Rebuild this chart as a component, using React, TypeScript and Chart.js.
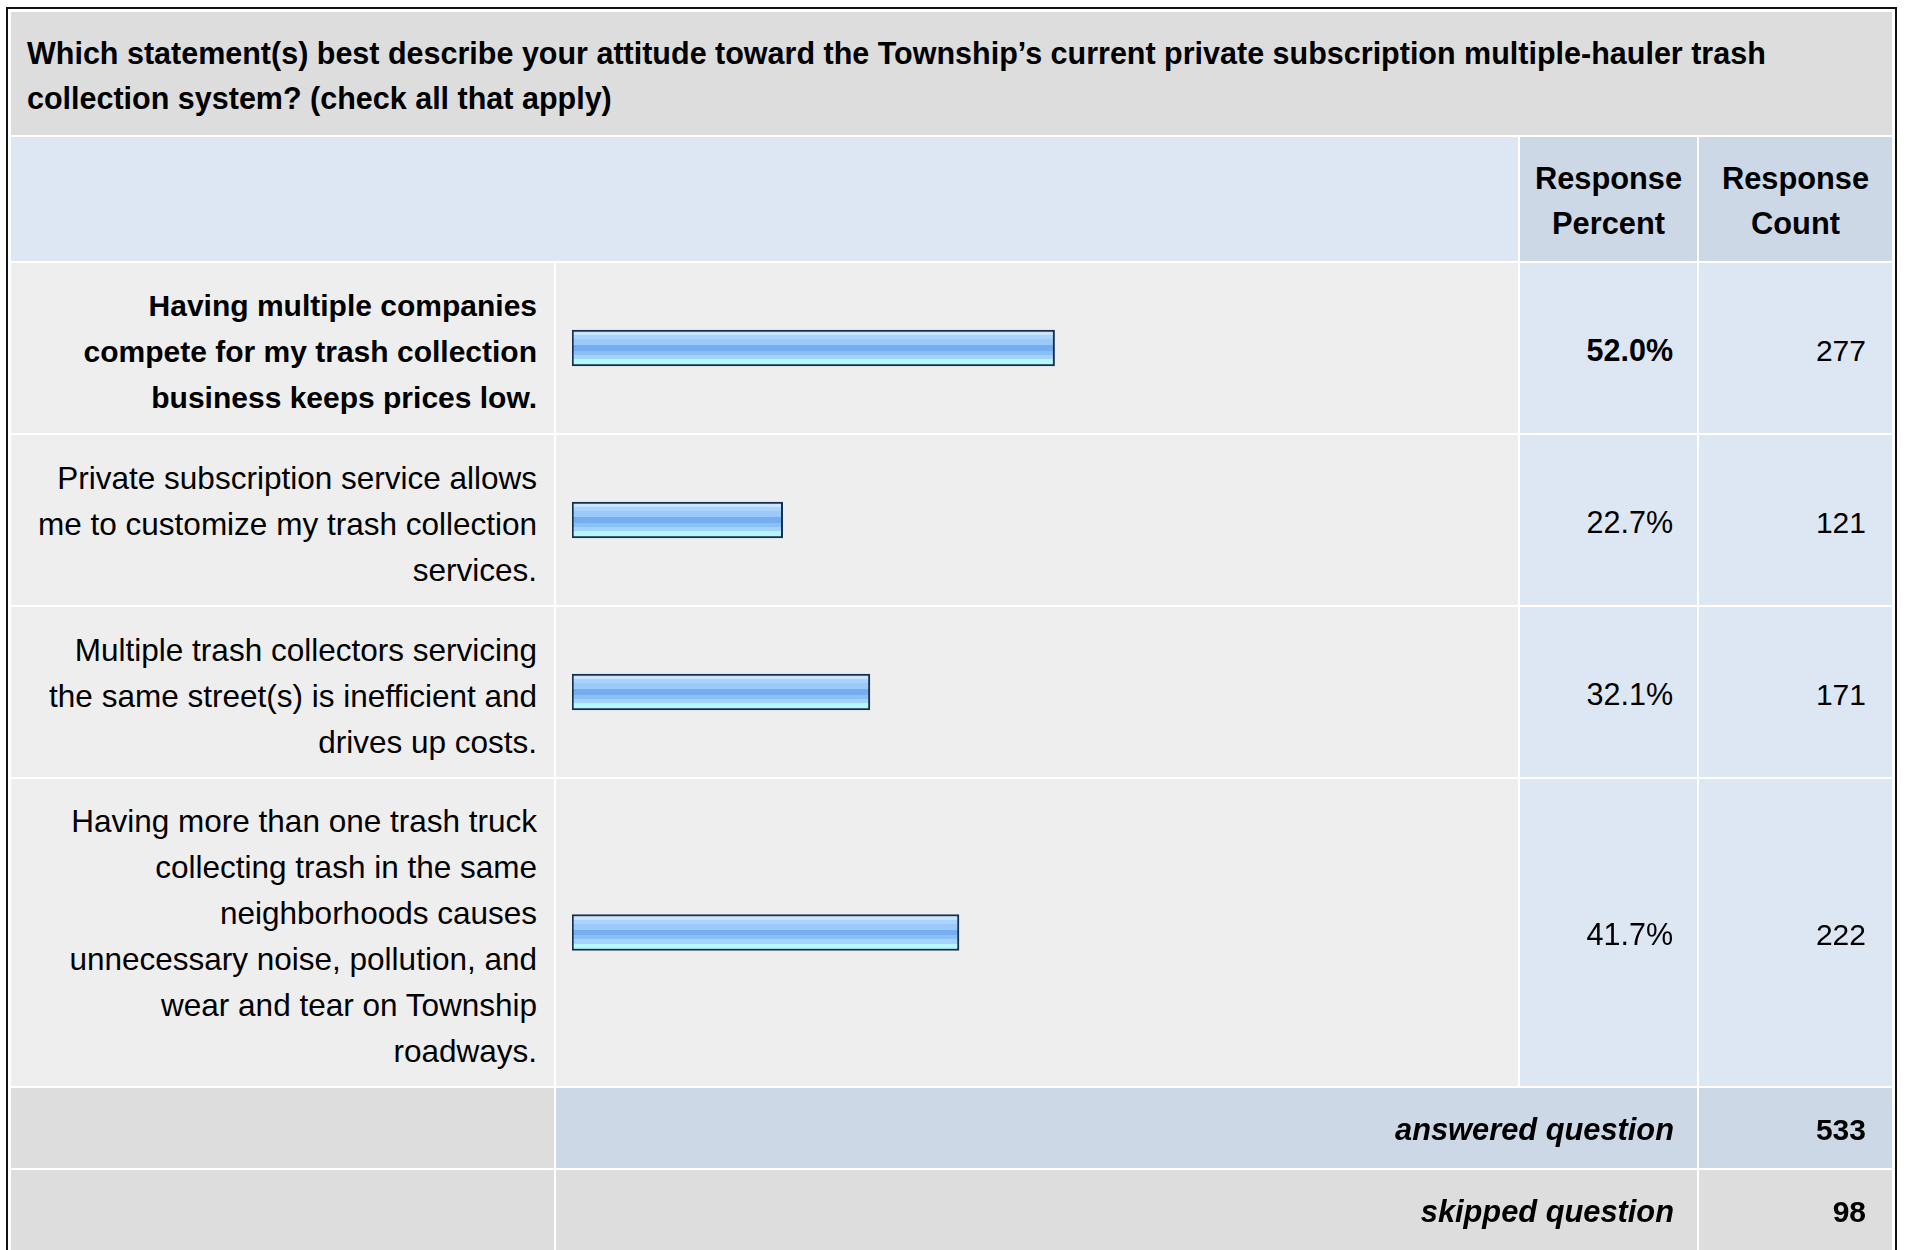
import React, { useEffect, useRef } from "react";
import { Chart, registerables } from "chart.js";

Chart.register(...registerables);

const questionTitle =
  "Which statement(s) best describe your attitude toward the Township\u2019s current private subscription multiple-hauler trash\ncollection system? (check all that apply)";
const columnHeaders = ["Response\nPercent", "Response\nCount"];
const categoryLines: string[][] = [
  ["Having multiple companies", "compete for my trash collection", "business keeps prices low."],
  ["Private subscription service allows", "me to customize my trash collection", "services."],
  ["Multiple trash collectors servicing", "the same street(s) is inefficient and", "drives up costs."],
  [
    "Having more than one trash truck",
    "collecting trash in the same",
    "neighborhoods causes",
    "unnecessary noise, pollution, and",
    "wear and tear on Township",
    "roadways.",
  ],
];
const responsePercent = [52.0, 22.7, 32.1, 41.7];
const responseCount = [277, 121, 171, 222];
const highlightedRow = 0;
const footerLabels = ["answered question", "skipped question"];
const footerValues = [533, 98];

const FONT = '"Liberation Sans", Arial, Helvetica, sans-serif';
const COLS = [543, 962, 177, 193];
const BODY_ROWS = [170, 170, 170, 307];

const C_TITLE = "#dddddd";
const C_HEAD_LIGHT = "#dde7f4";
const C_HEAD_DARK = "#cdd8e6";
const C_BODY = "#eeeeee";
const C_BODY_BLUE = "#dde7f4";

function barGradient(context: any) {
  const chart = context.chart;
  const area = chart.chartArea;
  if (!area) return "#8fc3f7";
  const mid = (area.top + area.bottom) / 2;
  const top = mid - 18;
  const g = chart.ctx.createLinearGradient(0, top, 0, top + 36);
  const stripes: [number, number, string][] = [
    [0.0, 0.139, "#cbe4fd"],
    [0.139, 0.258, "#aad4fe"],
    [0.258, 0.417, "#9bcafa"],
    [0.417, 0.575, "#74aef0"],
    [0.575, 0.694, "#8bc0f6"],
    [0.694, 0.806, "#a2d3fc"],
    [0.806, 1.0, "#b5f6ff"],
  ];
  stripes.forEach(([a, b, c]) => {
    g.addColorStop(a, c);
    g.addColorStop(b, c);
  });
  return g;
}

function BarCell({ value, label, height }: { value: number; label: string; height: number }) {
  const ref = useRef<HTMLCanvasElement | null>(null);
  useEffect(() => {
    if (!ref.current) return;
    const chart = new Chart(ref.current, {
      type: "bar",
      data: {
        labels: [label],
        datasets: [
          {
            data: [value],
            backgroundColor: barGradient as any,
            borderColor: "#17304f",
            borderWidth: 2,
            borderSkipped: false,
            barThickness: 36,
          } as any,
        ],
      },
      options: {
        indexAxis: "y",
        responsive: false,
        animation: false,
        layout: { padding: { left: 16, right: 18, top: 0, bottom: 0 } },
        scales: {
          x: { min: 0, max: 100, display: false },
          y: { display: false },
        },
        plugins: { legend: { display: false }, tooltip: { enabled: false } },
      },
    });
    return () => chart.destroy();
  }, [value, label, height]);
  return <canvas ref={ref} width={COLS[1]} height={height} style={{ display: "block" }} />;
}

const cellBase: React.CSSProperties = {
  display: "flex",
  alignItems: "center",
  justifyContent: "flex-end",
  textAlign: "right",
  whiteSpace: "pre-line",
  color: "#000",
  boxSizing: "border-box",
};

export default function App() {
  return (
    <div
      style={{
        position: "absolute",
        left: 6,
        top: 7,
        border: "2px solid #111",
        padding: 3,
        background: "#fff",
        fontFamily: FONT,
      }}
    >
      <div
        style={{
          display: "grid",
          gridTemplateColumns: COLS.map((c) => c + "px").join(" "),
          gridTemplateRows: [123, 124, ...BODY_ROWS, 80, 80].map((r) => r + "px").join(" "),
          gap: 2,
          background: "#fff",
        }}
      >
        <div
          style={{
            ...cellBase,
            gridColumn: "1 / 5",
            background: C_TITLE,
            justifyContent: "flex-start",
            textAlign: "left",
            paddingLeft: 16,
            paddingTop: 4,
            fontWeight: "bold",
            fontSize: 30.5,
            lineHeight: "45px",
          }}
        >
          {questionTitle}
        </div>

        <div style={{ gridColumn: "1 / 3", background: C_HEAD_LIGHT }} />
        {columnHeaders.map((h) => (
          <div
            key={h}
            style={{
              ...cellBase,
              background: C_HEAD_DARK,
              justifyContent: "center",
              textAlign: "center",
              fontWeight: "bold",
              fontSize: 30.8,
              lineHeight: "45px",
              paddingTop: 4,
            }}
          >
            {h}
          </div>
        ))}

        {categoryLines.map((lines, i) => {
          const bold = i === highlightedRow;
          return (
            <React.Fragment key={i}>
              <div
                style={{
                  ...cellBase,
                  background: C_BODY,
                  paddingRight: 17,
                  paddingTop: 7,
                  fontSize: bold ? 30 : 31.5,
                  lineHeight: "46px",
                  fontWeight: bold ? "bold" : "normal",
                }}
              >
                {lines.join("\n")}
              </div>
              <div style={{ background: C_BODY, overflow: "hidden" }}>
                <BarCell value={responsePercent[i]} label={lines.join(" ")} height={BODY_ROWS[i]} />
              </div>
              <div
                style={{
                  ...cellBase,
                  background: C_BODY_BLUE,
                  paddingRight: 24,
                  paddingTop: 4,
                  fontSize: 30.5,
                  lineHeight: "45px",
                  fontWeight: bold ? "bold" : "normal",
                }}
              >
                {responsePercent[i].toFixed(1) + "%"}
              </div>
              <div
                style={{
                  ...cellBase,
                  background: C_BODY_BLUE,
                  paddingRight: 26,
                  paddingTop: 4,
                  fontSize: 30,
                  lineHeight: "45px",
                }}
              >
                {String(responseCount[i])}
              </div>
            </React.Fragment>
          );
        })}

        {footerLabels.map((lab, i) => {
          const mid = i === 0 ? C_HEAD_DARK : C_TITLE;
          return (
            <React.Fragment key={lab}>
              <div style={{ background: C_TITLE }} />
              <div
                style={{
                  ...cellBase,
                  gridColumn: "2 / 4",
                  background: mid,
                  paddingRight: 23,
                  paddingTop: 3,
                  fontSize: 30.8,
                  lineHeight: "45px",
                  fontWeight: "bold",
                  fontStyle: "italic",
                }}
              >
                {lab}
              </div>
              <div
                style={{
                  ...cellBase,
                  background: mid,
                  paddingRight: 26,
                  paddingTop: 3,
                  fontSize: 30,
                  lineHeight: "45px",
                  fontWeight: "bold",
                }}
              >
                {String(footerValues[i])}
              </div>
            </React.Fragment>
          );
        })}
      </div>
    </div>
  );
}
